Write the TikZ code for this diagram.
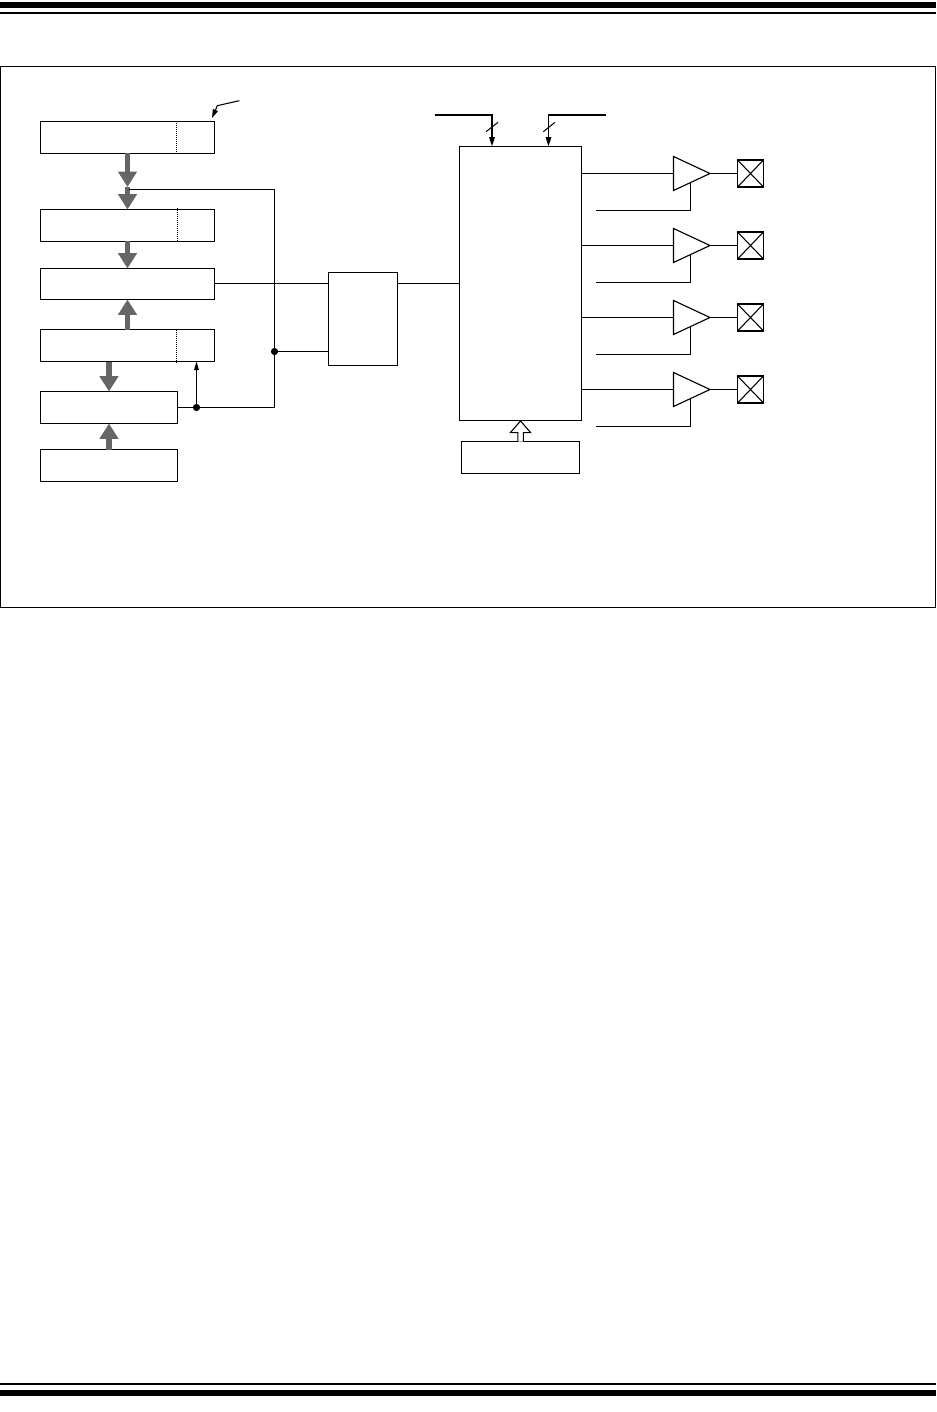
\documentclass[tikz,border=0pt]{standalone}
\usetikzlibrary{arrows.meta,shapes.geometric}
\tikzset{
  x=0.75pt,y=-0.75pt,
  every path/.style={line width=0.85pt,line join=miter},
  box/.style={draw,rectangle,anchor=north west,inner sep=0pt,outer sep=0pt,minimum width=174*0.75pt,minimum height=32*0.75pt,fill=white},
  shortbox/.style={box,minimum width=137*0.75pt},
  plainbox/.style={draw,rectangle,anchor=north west,inner sep=0pt,outer sep=0pt},
  divider/.style={line width=0.75pt,dash pattern=on 0.75pt off 0.75pt},
  bus/.style={draw=busgray,line width=3.9pt,-{Triangle[length=11.5pt,width=13.6pt,fill=busgray]}},
  dot/.style={circle,fill=black,inner sep=0pt,outer sep=0pt,minimum size=5.4pt},
  wire/.style={line width=0.8pt},
  thickwire/.style={line width=1.3pt},
  ctrl/.style={thickwire,-{Triangle[length=7pt,width=4pt]}},
  amp/.style={draw,isosceles triangle,isosceles triangle stretches=true,shape border rotate=0,inner sep=0pt,outer sep=0pt,minimum height=36.5*0.75pt,minimum width=34*0.75pt,anchor=lower side,fill=white},
  pad/.style={draw,rectangle,inner sep=0pt,outer sep=0pt,minimum width=26*0.75pt,minimum height=27*0.75pt,anchor=west},
}
\definecolor{busgray}{HTML}{666666}
\begin{document}
\begin{tikzpicture}
\useasboundingbox (0,0) rectangle (936,1412);
% page rules
\fill (0,2) rectangle (936,8);
\fill (0,12) rectangle (936,14);
\fill (0,1383) rectangle (936,1385);
\fill (0,1390) rectangle (936,1396);
% frame
\draw[line width=1pt] (0.5,66.5) rectangle (935.5,607.5);
% left column
\node[box] (b1) at (40.5,121.5) {};
\node[box] (b2) at (40.5,209.5) {};
\node[box,minimum height=31*0.75pt] (b3) at (40.5,268.5) {};
\node[box] (b4) at (40.5,329.5) {};
\node[shortbox] (b5) at (40.5,391.5) {};
\node[shortbox] (b6) at (40.5,449.5) {};
\draw[divider] ({176.5,0} |- b1.north) -- ({176.5,0} |- b1.south);
\draw[divider] (177.5,208) -- ({177.5,0} |- b2.south);
\draw[divider] ({176.5,0} |- b4.north) -- (176.5,362.5);
% bus arrows
\coordinate (m1) at (127.5,187);
\draw[bus] (b1.south) -- (m1);
\draw[bus] (m1) -- (b2.north);
\draw[bus] (b2.south) -- (b3.north);
\draw[bus] (b4.north) -- (b3.south);
\draw[bus] (b4.south -| b5.north) -- (b5.north);
\draw[bus] (b6.north) -- (b5.south);
% middle
\node[plainbox,minimum width=69*0.75pt,minimum height=93*0.75pt] (mux) at (328.5,272.5) {};
\node[plainbox,minimum width=122*0.75pt,minimum height=274*0.75pt] (pwm) at (459.5,146.5) {};
\node[plainbox,minimum width=118*0.75pt,minimum height=32*0.75pt] (dead) at (461.5,441.5) {};
\coordinate (fb) at (129,189.5);
\coordinate (fc) at (274.5,189.5);
\coordinate (fd) at (274.5,407.5);
\node[dot] (j1) at (274.5,351.5) {};
\node[dot] (j2) at (196.5,407.5) {};
\draw[wire] (fb) -- (fc) -- (fd) -- (b5.east |- fd);
\draw[wire] (j1) -- (j1 -| mux.west);
\draw[wire,-{Triangle[length=6.5pt,width=3.6pt]}] (j2) -- (j2 |- b4.south);
\coordinate (mi) at (214.5,283.5);
\coordinate (mo) at (397.5,283.5);
\draw[wire] (mi) -- (mi -| mux.west);
\draw[wire] (mo) -- (mo -| pwm.west);
% top control inputs
\coordinate (c1) at (435,114.7);
\coordinate (c2) at (492,114.7);
\coordinate (c3) at (606,114.7);
\coordinate (c4) at (548.5,114.7);
\draw[ctrl] (c1) -- (c2) -- (c2 |- pwm.north);
\draw[ctrl] (c3) -- (c4) -- (c4 |- pwm.north);
\coordinate (s1a) at (486,131.7); \coordinate (s1b) at (498,122.3);
\coordinate (s2a) at (543.3,131.7); \coordinate (s2b) at (555,122.3);
\draw[line width=0.75pt] (s1a) -- (s1b);
\draw[line width=0.75pt] (s2a) -- (s2b);
% callout
\coordinate (ca) at (239.3,100.7);
\coordinate (cb) at (217.3,105.7);
\coordinate (cc) at (212,118);
\draw[wire,-{Triangle[length=6.5pt,width=4pt]}] (ca) -- (cb) -- (cc);
% hollow arrow
\draw[wire,fill=white] (517.8,441.5) -- (517.8,432.7) -- (510.3,432.7) -- (520.5,421) -- (530.7,432.7) -- (523.3,432.7) -- (523.3,441.5);
% output stages
\foreach \n/\y in {1/173.5,2/245.5,3/317.5,4/389.5}{
  \node[amp] (a\n) at (673.5,\y) {};
  \node[pad] (p\n) at (737.5,\y) {};
  \draw[wire] (p\n.north west) -- (p\n.south east);
  \draw[wire] (p\n.south west) -- (p\n.north east);
  \draw[wire] (a\n.lower side -| pwm.east) -- (a\n.lower side);
  \draw[wire] (a\n.apex) -- (p\n.west);
  \coordinate (l\n) at (596,\y+37);
  \coordinate (r\n) at (690.5,\y+37);
  \coordinate (t\n) at (690.5,\y+8.5);
  \draw[wire] (l\n) -- (r\n) -- (t\n);
}
\end{tikzpicture}
\end{document}
